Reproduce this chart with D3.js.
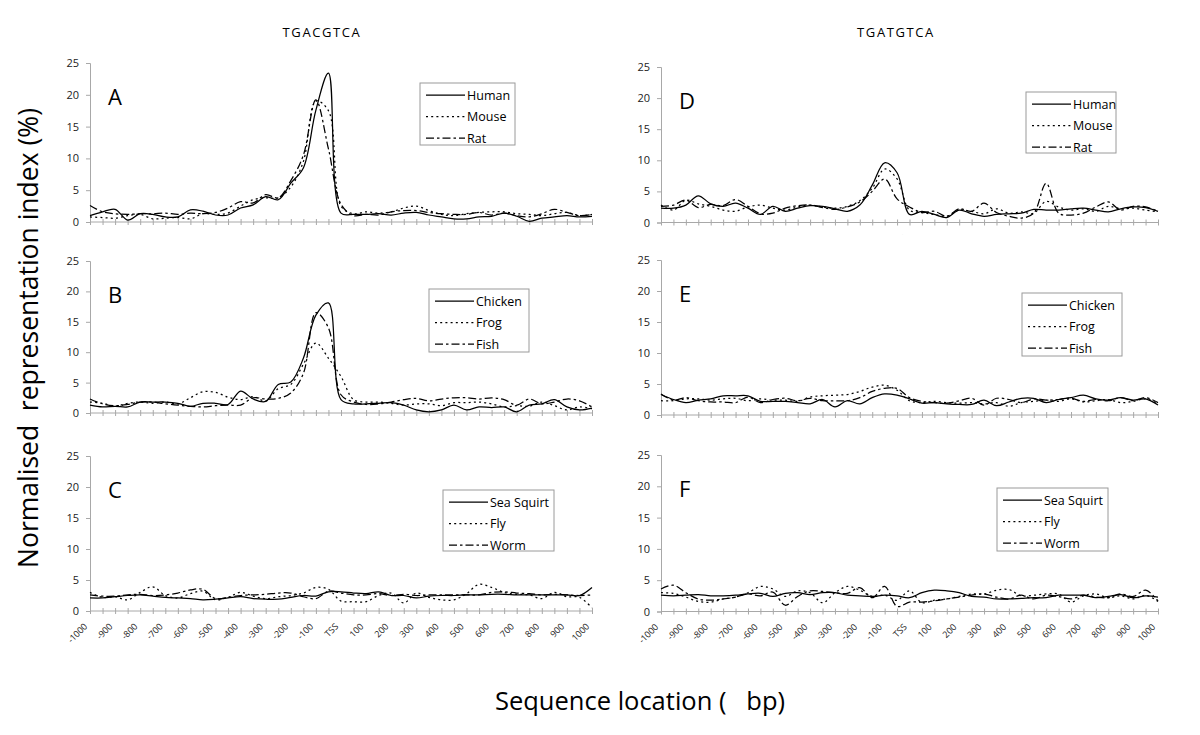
<!DOCTYPE html>
<html>
<head>
<meta charset="utf-8">
<script src="https://cdn.jsdelivr.net/npm/d3@7"></script>
<style>
  html, body { margin: 0; padding: 0; background: #fff; }
  svg { display: block; }
  text { font-family: "Open Sans", "Noto Sans", sans-serif; }
</style>
</head>
<body>
<svg id="chart" width="1200" height="735"></svg>
<script>
// ---------------- DATA ----------------
const positions = d3.range(-1000, 1001, 50);              // sequence location (bp)
const tickLabels = d3.range(-1000, 1001, 100).map(v => v === 0 ? "TSS" : String(v));
const titles = ["TGACGTCA", "TGATGTCA"];
const panelLetters = ["A", "B", "C", "D", "E", "F"];
const yTicks = [0, 5, 10, 15, 20, 25];

const namesVert = ["Human", "Mouse", "Rat"];
const namesVert2 = ["Chicken", "Frog", "Fish"];
const namesInvert = ["Sea Squirt", "Fly", "Worm"];

// Panel A (TGACGTCA, mammals)
const A_human = [1.0,1.6,2.0,0.3,1.3,1.2,0.8,0.8,1.9,1.7,1.1,1.1,2.2,2.7,4.0,3.5,6.1,8.5,17.6,23.4,1.4,1.2,1.2,1.3,1.1,1.4,1.5,1.1,0.8,0.5,0.5,0.8,0.9,1.4,0.9,0.1,0.6,0.8,1.0,0.8,0.9];
const A_mouse = [0.8,0.7,0.6,1.0,1.2,0.5,0.6,0.7,0.5,1.3,1.2,1.4,2.5,3.5,3.8,3.8,5.5,9.5,19.0,17.5,2.5,1.3,1.6,1.4,1.6,2.2,2.5,1.8,1.2,1.0,1.3,1.5,1.6,1.6,1.3,1.2,1.0,1.3,1.5,1.0,1.2];
const A_rat   = [2.6,1.6,1.3,1.2,1.3,1.3,1.4,1.2,1.4,1.3,1.5,2.2,3.2,3.0,4.3,3.8,6.5,10.5,19.2,11.5,2.8,1.0,1.2,1.1,1.6,1.8,1.8,1.5,1.3,1.2,1.2,1.5,1.1,1.4,1.0,0.8,1.3,2.0,1.5,1.0,1.2];
// Panel B (TGACGTCA, other vertebrates)
const B_chicken = [1.3,1.0,1.1,1.0,1.8,1.8,1.8,1.6,1.1,1.6,1.6,1.4,3.6,2.3,1.9,4.7,5.1,9.0,16.1,18.1,2.2,1.5,1.5,1.6,1.7,1.3,0.5,0.2,0.5,1.3,0.5,1.0,0.9,1.0,0.2,1.3,1.5,2.2,1.0,0.5,0.8];
const B_frog    = [1.8,1.6,1.1,1.6,1.8,1.6,1.8,1.5,2.5,3.5,3.4,2.6,2.2,2.7,2.0,4.0,4.7,8.0,11.5,9.0,6.0,2.2,1.8,1.8,1.6,1.3,1.5,1.5,1.2,1.7,1.7,1.8,1.5,1.0,1.2,1.1,1.8,1.2,0.5,1.0,0.7];
const B_fish    = [2.3,1.5,1.2,1.4,1.8,1.8,1.5,1.3,1.1,1.0,1.2,1.3,1.3,2.5,2.3,2.4,3.3,6.5,16.5,14.0,3.0,1.8,1.4,1.5,1.8,2.2,2.4,2.0,2.3,2.5,2.5,2.3,2.5,2.2,1.3,2.3,1.5,1.8,2.3,2.0,1.0];
// Panel C (TGACGTCA, invertebrates)
const C_seasquirt = [2.1,2.1,2.3,2.5,2.6,2.4,2.2,2.1,2.0,1.8,1.9,2.1,2.3,2.0,1.9,1.9,2.2,2.5,2.4,3.1,3.1,2.9,2.8,3.1,2.5,2.5,2.1,2.4,2.5,2.5,2.6,2.6,2.7,2.7,2.6,2.6,2.6,2.6,2.6,2.5,3.8];
const C_fly       = [3.0,2.2,2.3,1.8,3.0,3.9,2.5,2.1,2.8,3.2,1.8,2.2,3.0,2.4,2.0,2.3,2.5,2.9,3.8,3.5,1.6,1.5,1.5,2.5,2.9,1.3,2.9,2.2,1.8,1.8,2.8,4.3,3.8,3.0,2.7,2.6,2.0,3.0,2.3,2.2,0.5];
const C_worm      = [2.6,2.4,2.4,2.6,2.7,2.5,2.6,2.9,3.4,3.5,2.0,2.2,2.5,2.6,2.7,2.9,2.9,2.3,2.0,3.2,2.9,2.6,2.6,2.8,2.5,2.7,2.5,2.6,2.6,2.6,2.6,2.6,3.0,3.1,2.9,2.8,2.6,2.7,2.6,2.5,2.6];
// Panel D (TGATGTCA, mammals)
const D_human = [2.3,2.3,2.8,4.3,3.0,2.6,3.1,2.3,1.3,2.6,1.8,2.3,2.7,2.6,2.2,1.8,2.8,6.0,9.6,8.0,1.3,1.8,1.3,0.8,2.0,1.4,1.0,1.3,1.4,1.5,2.1,2.0,2.0,2.2,2.3,2.0,1.7,2.2,2.5,2.4,1.8];
const D_mouse = [2.8,2.0,3.6,3.0,2.6,2.0,1.8,2.5,2.8,2.3,2.0,2.5,2.8,2.5,2.3,2.6,3.5,5.5,8.6,7.0,2.0,1.6,1.3,1.0,2.0,1.8,1.4,2.2,1.5,1.7,1.5,3.4,2.5,2.0,2.2,1.8,2.6,2.2,2.3,2.0,1.7];
const D_rat   = [2.6,2.8,3.6,2.4,2.9,2.7,3.7,2.6,1.4,1.5,2.3,2.7,2.8,2.4,2.1,2.5,3.3,5.0,7.0,3.8,2.5,1.6,1.8,1.0,2.2,1.8,3.1,1.6,1.0,0.7,1.5,6.3,1.5,1.2,1.5,2.5,3.3,2.0,2.6,2.5,1.8];
// Panel E (TGATGTCA, other vertebrates)
const E_chicken = [3.3,2.5,2.0,2.4,2.6,3.1,3.1,3.1,2.2,2.2,2.2,2.0,1.8,2.5,1.3,2.3,1.8,2.8,3.4,3.2,2.6,1.9,2.0,1.8,1.7,1.7,2.4,1.5,2.1,2.7,2.7,2.0,2.5,2.8,3.2,2.6,2.4,2.8,2.4,2.6,1.6];
const E_frog    = [2.3,2.3,2.6,2.6,2.4,2.6,2.7,2.3,2.6,2.4,2.4,2.2,2.9,3.1,3.2,3.3,3.8,4.5,4.8,4.0,2.3,2.0,2.2,2.0,1.9,2.0,1.8,2.0,1.4,2.0,2.2,2.4,2.2,2.6,2.1,2.3,2.5,2.0,2.2,2.6,1.8];
const E_fish    = [3.4,2.4,2.8,2.3,2.1,2.1,2.0,2.9,2.0,2.5,2.7,2.3,2.7,2.3,2.3,2.3,2.8,3.8,4.3,4.3,2.8,2.2,2.0,1.9,2.3,2.7,1.6,2.7,2.5,2.0,2.6,2.4,2.5,2.7,2.2,2.5,2.3,2.8,2.3,2.8,2.0];
// Panel F (TGATGTCA, invertebrates)
const F_seasquirt = [2.6,2.5,2.6,2.7,2.5,2.5,2.6,2.8,2.9,2.4,2.9,3.0,2.7,3.0,3.0,2.6,2.5,2.4,2.6,2.5,2.2,3.0,3.4,3.3,3.0,2.4,2.3,2.0,2.0,2.1,2.2,2.2,2.6,2.6,2.6,2.2,2.4,2.7,2.2,2.5,2.3];
const F_fly       = [3.0,2.9,2.3,1.6,1.5,2.0,2.3,3.0,4.0,3.6,2.4,3.3,3.0,1.4,3.0,4.0,3.4,2.4,2.6,1.8,3.3,1.4,1.8,2.0,2.4,2.8,2.8,3.4,3.5,2.5,2.6,2.8,2.8,1.5,2.5,2.8,2.2,2.5,2.0,2.6,1.6];
const F_worm      = [3.6,4.2,3.0,2.0,1.8,2.0,2.3,2.8,2.5,3.1,1.0,2.4,3.3,3.2,3.0,2.9,3.8,2.2,4.0,0.8,1.5,1.5,1.7,2.0,2.3,2.6,2.8,2.3,2.0,2.6,2.0,2.6,2.4,2.0,2.6,2.3,2.2,2.8,2.4,3.4,1.7];

// ---------------- LAYOUT ----------------
const svg = d3.select("#chart");
const axisColor = "#a8a8a8";
const dashes = [null, "2,3.2", "8,3,2.5,3"];

const panels = [
  {letter: panelLetters[0], series: [A_human, A_mouse, A_rat], names: namesVert,
   x0: 90, x1: 592, top: 63, bot: 222, legend: {x: 420, y: 83, w: 95, h: 62}, showX: false},
  {letter: panelLetters[1], series: [B_chicken, B_frog, B_fish], names: namesVert2,
   x0: 90, x1: 592, top: 261, bot: 413, legend: {x: 429, y: 289, w: 100, h: 63}, showX: false},
  {letter: panelLetters[2], series: [C_seasquirt, C_fly, C_worm], names: namesInvert,
   x0: 90, x1: 592, top: 456, bot: 611, legend: {x: 443, y: 490, w: 111, h: 61}, showX: true},
  {letter: panelLetters[3], series: [D_human, D_mouse, D_rat], names: namesVert,
   x0: 661, x1: 1158, top: 67, bot: 222.5, legend: {x: 1026, y: 92, w: 90, h: 61}, showX: false},
  {letter: panelLetters[4], series: [E_chicken, E_frog, E_fish], names: namesVert2,
   x0: 661, x1: 1158, top: 260, bot: 415, legend: {x: 1022, y: 293, w: 100, h: 63}, showX: false},
  {letter: panelLetters[5], series: [F_seasquirt, F_fly, F_worm], names: namesInvert,
   x0: 661, x1: 1158, top: 455, bot: 611.5, legend: {x: 997, y: 488, w: 111, h: 63}, showX: true}
];

const defs = svg.append("defs");

panels.forEach((p, pi) => {
  const g = svg.append("g");
  const x = d3.scaleLinear().domain([-1000, 1000]).range([p.x0, p.x1]);
  const y = d3.scaleLinear().domain([0, 25]).range([p.bot, p.top]);

  // faint / clipped x tick labels for upper panels, full labels for bottom
  const clipId = "clip" + pi;
  defs.append("clipPath").attr("id", clipId).append("rect")
    .attr("x", p.x0 - 60).attr("y", p.bot + 4).attr("width", p.x1 - p.x0 + 80)
    .attr("height", p.showX ? 60 : 8);
  const lab = g.append("g").attr("clip-path", `url(#${clipId})`);
  tickLabels.forEach((t, i) => {
    const v = -1000 + i * 100;
    const tx = x(v) - 2, ty = p.bot + 16;
    lab.append("text")
      .attr("transform", `translate(${tx},${ty}) rotate(-45)`)
      .attr("text-anchor", "end")
      .attr("font-size", 9)
      .attr("fill", p.showX ? "#222" : "#d0d0d0")
      .text(t);
  });

  // y axis
  const yAxis = d3.axisLeft(y).tickValues(yTicks).tickSize(4).tickPadding(7);
  const ya = g.append("g").attr("transform", `translate(${p.x0},0)`).call(yAxis);
  ya.select(".domain").attr("stroke", axisColor);
  ya.selectAll(".tick line").attr("stroke", axisColor);
  ya.selectAll(".tick text").attr("font-size", 11).attr("fill", "#222")
    .attr("font-family", "'Open Sans', sans-serif");

  // x axis (ticks crossing the line)
  const xAxis = d3.axisBottom(x).tickValues(positions).tickSize(3).tickFormat("");
  const xa = g.append("g").attr("transform", `translate(0,${p.bot})`).call(xAxis);
  xa.select(".domain").attr("stroke", axisColor).attr("d", `M${p.x0},0H${p.x1}`);
  xa.selectAll(".tick line").attr("stroke", axisColor).attr("y1", -3).attr("y2", 3);

  // lines
  const line = d3.line()
    .x((d, i) => x(positions[i]))
    .y(d => y(d))
    .curve(d3.curveCatmullRom.alpha(0.5));
  p.series.forEach((s, si) => {
    g.append("path")
      .datum(s)
      .attr("d", line)
      .attr("fill", "none")
      .attr("stroke", "#000")
      .attr("stroke-width", 1.25)
      .attr("stroke-dasharray", dashes[si]);
  });

  // panel letter
  g.append("text")
    .attr("x", p.x0 + 18).attr("y", p.top + 42)
    .attr("font-size", 22).attr("fill", "#000")
    .text(p.letter);

  // legend
  const L = p.legend;
  const lg = g.append("g");
  lg.append("rect").attr("x", L.x).attr("y", L.y).attr("width", L.w).attr("height", L.h)
    .attr("fill", "#fff").attr("stroke", "#9a9a9a").attr("stroke-width", 1);
  p.names.forEach((n, ni) => {
    const ry = L.y + 12 + ni * 21.5;
    lg.append("line").attr("x1", L.x + 6).attr("x2", L.x + 45).attr("y1", ry).attr("y2", ry)
      .attr("stroke", "#000").attr("stroke-width", 1.25).attr("stroke-dasharray", dashes[ni]);
    lg.append("text").attr("x", L.x + 47).attr("y", ry + 4.5)
      .attr("font-size", 12.5).attr("fill", "#000").text(n);
  });
});

// titles
svg.append("text").attr("x", 322).attr("y", 37).attr("text-anchor", "middle")
  .attr("font-size", 13).attr("letter-spacing", 1.6).text(titles[0]);
svg.append("text").attr("x", 896).attr("y", 37).attr("text-anchor", "middle")
  .attr("font-size", 13).attr("letter-spacing", 1.6).text(titles[1]);

// axis titles
svg.append("text")
  .attr("transform", "translate(38,338) rotate(-90)")
  .attr("text-anchor", "middle").attr("font-size", 26.5)
  .style("white-space", "pre")
  .text("Normalised  representation index (%)");
svg.append("text")
  .attr("x", 640).attr("y", 710).attr("text-anchor", "middle").attr("font-size", 25.5)
  .style("white-space", "pre")
  .text("Sequence location (   bp)");
</script>
</body>
</html>
